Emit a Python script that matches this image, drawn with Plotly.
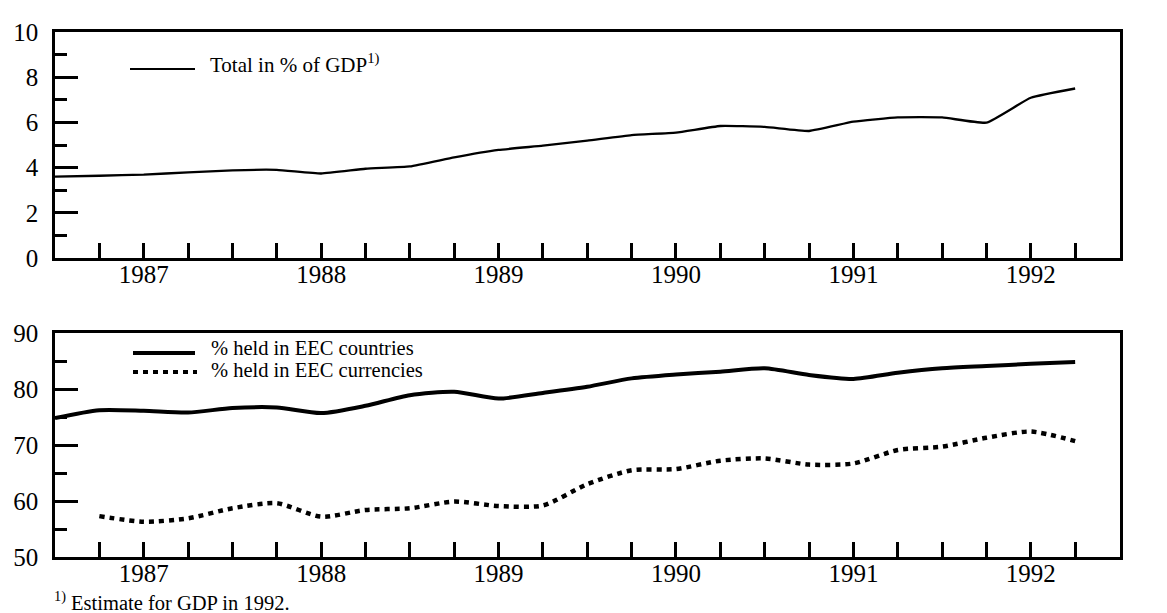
import plotly.graph_objects as go

# ---- data (quarterly) ----
quarters = ["1986Q4", "1987Q1", "1987Q2", "1987Q3", "1987Q4", "1988Q1", "1988Q2", "1988Q3",
            "1988Q4", "1989Q1", "1989Q2", "1989Q3", "1989Q4", "1990Q1", "1990Q2", "1990Q3",
            "1990Q4", "1991Q1", "1991Q2", "1991Q3", "1991Q4", "1992Q1", "1992Q2", "1992Q3"]
total_gdp = [3.60, 3.64, 3.69, 3.79, 3.88, 3.90, 3.74, 3.95, 4.05, 4.45, 4.78, 4.97,
             5.19, 5.44, 5.55, 5.84, 5.80, 5.62, 6.03, 6.22, 6.22, 5.99, 7.09, 7.50]
eec_countries = [74.8, 76.2, 76.1, 75.8, 76.6, 76.7, 75.7, 77.0, 78.9, 79.5, 78.3, 79.3,
                 80.4, 81.9, 82.6, 83.1, 83.7, 82.5, 81.8, 82.9, 83.7, 84.1, 84.5, 84.8]
eec_currencies = [None, 57.3, 56.3, 56.9, 58.7, 59.6, 57.2, 58.4, 58.7, 59.9, 59.1, 59.2,
                  63.0, 65.5, 65.7, 67.2, 67.6, 66.5, 66.7, 69.1, 69.7, 71.3, 72.4, 70.7]
year_labels = ["1987", "1988", "1989", "1990", "1991", "1992"]

# page has an 8px body margin, so the figure is placed at (8, 8)
OFF = 8
W, H = 1167 - OFF, 613 - OFF
FONT = "Liberation Serif"
xpos = list(range(len(quarters)))
year_tickvals = [2 + 4 * i for i in range(len(year_labels))]
long_tickvals = [4 * i for i in range(1, len(year_labels))]
XR = [0, len(quarters)]

def px_x(p):
    return (p - OFF) / W

def px_y(p):
    return 1 - (p - OFF) / H

fig = go.Figure()
fig.add_trace(go.Scatter(x=xpos, y=total_gdp, mode="lines", xaxis="x", yaxis="y",
                         line=dict(color="black", width=2.3, shape="spline", smoothing=0.4),
                         showlegend=False, hoverinfo="skip"))
fig.add_trace(go.Scatter(x=xpos, y=eec_countries, mode="lines", xaxis="x2", yaxis="y2",
                         line=dict(color="black", width=4, shape="spline", smoothing=0.7),
                         showlegend=False, hoverinfo="skip"))
fig.add_trace(go.Scatter(x=xpos, y=eec_currencies, mode="lines", xaxis="x2", yaxis="y2",
                         line=dict(color="black", width=4.5, dash="5px,5px", shape="spline", smoothing=0.7),
                         showlegend=False, hoverinfo="skip", connectgaps=False))

xdom = [px_x(55), px_x(1119.5)]
top_dom = [px_y(258), px_y(32)]
bot_dom = [px_y(557), px_y(333)]
LW = 2.5
tickfont = dict(family=FONT, size=25, color="black")

def xaxis_main(anchor):
    return dict(domain=xdom, anchor=anchor, range=XR, showline=True, linewidth=LW, linecolor="black",
                mirror=True, ticks="inside", ticklen=15, tickwidth=LW, tickcolor="black",
                tickmode="array", tickvals=year_tickvals, ticktext=year_labels,
                tickfont=tickfont, ticklabelstandoff=-8,
                showgrid=False, zeroline=False, fixedrange=True, automargin=False,
                minor=dict(ticks="inside", ticklen=15, tickwidth=LW, tickcolor="black",
                           tickmode="array", tickvals=list(range(1, len(quarters))), showgrid=False))

def xaxis_long(overlay, anchor):
    return dict(overlaying=overlay, anchor=anchor, side="bottom", range=XR, showline=False,
                ticks="inside", ticklen=23, tickwidth=LW, tickcolor="black",
                tickmode="array", tickvals=long_tickvals, showticklabels=False,
                showgrid=False, zeroline=False, fixedrange=True, automargin=False)

def yaxis_main(anchor, dom, rng, dt, mdt, side="left", overlay=None):
    d = dict(anchor=anchor, range=rng, side=side, ticks="inside", ticklen=23, tickwidth=LW,
             tickcolor="black", tick0=rng[0], dtick=dt, tickfont=tickfont, showgrid=False,
             zeroline=False, fixedrange=True, automargin=False,
             ticklabelstandoff=(9 if side == "left" else 0),
             minor=dict(ticks="inside", ticklen=12, tickwidth=LW, tickcolor="black",
                        tick0=rng[0], dtick=mdt, showgrid=False))
    if overlay is None:
        d.update(domain=dom, showline=True, linewidth=LW, linecolor="black", mirror=True)
    else:
        d.update(overlaying=overlay, showline=False)
    return d

fig.update_layout(
    width=W, height=H, margin=dict(l=0, r=0, t=0, b=0, autoexpand=False),
    paper_bgcolor="white", plot_bgcolor="white",
    font=dict(family=FONT, color="black"),
    xaxis=xaxis_main("y"),
    xaxis2=xaxis_main("y2"),
    xaxis3=xaxis_long("x", "y"),
    xaxis4=xaxis_long("x2", "y2"),
    yaxis=yaxis_main("x", top_dom, [0, 10], 2, 1),
    yaxis2=yaxis_main("x2", bot_dom, [50, 90], 10, 5),
    yaxis3=yaxis_main("x", top_dom, [0, 10], 2, 1, side="right", overlay="y"),
    yaxis4=yaxis_main("x2", bot_dom, [50, 90], 10, 5, side="right", overlay="y2"),
    showlegend=False,
)

# legend samples and texts (decorations)
shapes = [
    dict(type="line", xref="paper", yref="paper", x0=px_x(130), x1=px_x(195), y0=px_y(69), y1=px_y(69),
         line=dict(color="black", width=1.8)),
    dict(type="line", xref="paper", yref="paper", x0=px_x(133), x1=px_x(195), y0=px_y(353), y1=px_y(353),
         line=dict(color="black", width=4)),
    dict(type="line", xref="paper", yref="paper", x0=px_x(133), x1=px_x(197), y0=px_y(372), y1=px_y(372),
         line=dict(color="black", width=4, dash="5px,5px")),
]
for s in shapes:
    fig.add_shape(**s)

ann = [
    ("Total in % of GDP<sup>1)</sup>", 208, 63, 21),
    ("% held in EEC countries", 209, 348, 20.5),
    ("% held in EEC currencies", 209, 370, 20.5),
    ("<sup>1)</sup> Estimate for GDP in 1992.", 52, 601, 20.5),
]
for text, x, y, fs in ann:
    fig.add_annotation(text=text, xref="paper", yref="paper", x=px_x(x), y=px_y(y),
                       xanchor="left", yanchor="middle", showarrow=False,
                       font=dict(family=FONT, size=fs, color="black"))

fig.write_html("out.html")
